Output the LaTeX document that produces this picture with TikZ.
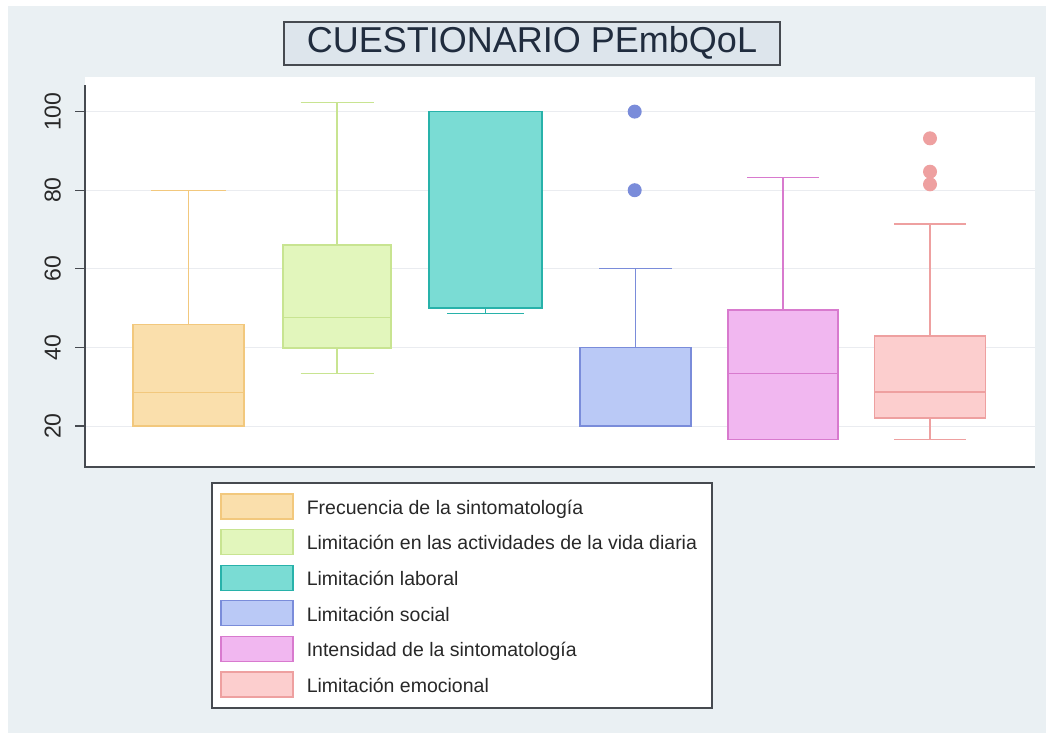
\documentclass[tikz,border=0pt]{standalone}
\usepackage{fontspec}
\setmainfont{Liberation Sans}
\usetikzlibrary{positioning}
\definecolor{bgblue}{RGB}{234,240,243}
\definecolor{titlefill}{RGB}{221,229,236}
\definecolor{framegray}{RGB}{70,74,80}
\definecolor{titleink}{RGB}{32,44,62}
\definecolor{legendink}{RGB}{40,40,40}
\definecolor{gridgray}{RGB}{234,236,240}
\definecolor{frecfill}{RGB}{250,223,172}
\definecolor{frecline}{RGB}{242,200,125}
\definecolor{vidafill}{RGB}{226,246,188}
\definecolor{vidaline}{RGB}{200,228,145}
\definecolor{labofill}{RGB}{122,220,212}
\definecolor{laboline}{RGB}{40,178,170}
\definecolor{socifill}{RGB}{186,201,246}
\definecolor{sociline}{RGB}{122,140,218}
\definecolor{intefill}{RGB}{241,183,240}
\definecolor{inteline}{RGB}{216,122,206}
\definecolor{emocfill}{RGB}{252,206,206}
\definecolor{emocline}{RGB}{238,160,160}

\begin{document}
\begin{tikzpicture}[
    x=1pt, y=-1pt,
    declare function={yv(\v)=426-(\v-20)*3.93;},
    frame/.style={draw=framegray, line width=1.3pt},
    gridline/.style={draw=gridgray, line width=1pt},
    whisker/.style={line width=1.3pt},
    boxplot/.style={line width=1.5pt},
    ticklabel/.style={rotate=90, font=\fontsize{23}{23}\selectfont, text=legendink, inner sep=0pt, text height=16pt, text depth=0pt},
    swatch/.style={rectangle, minimum width=72pt, minimum height=25pt, line width=1.2pt, inner sep=0pt},
    entry/.style={inner sep=0pt, font=\fontsize{19.5}{19.5}\selectfont, text=legendink, text height=15.5pt, text depth=0pt},
    outlier/.style={circle, inner sep=0pt, minimum size=14pt}
]
    \useasboundingbox (0,0) rectangle (1053,740);
    \fill[white] (0,0) rectangle (1053,740);
    \fill[bgblue] (8,6) rectangle (1046,733);

    % title
    \draw[frame, fill=titlefill] (284,22) rectangle (780,65);
    \node[anchor=base, font=\fontsize{36}{36}\selectfont, text=titleink, inner sep=0pt] (title) at (532,52) {CUESTIONARIO PEmbQoL};

    % plot region
    \fill[white] (85,77) rectangle (1035,467);
    \foreach \v in {20,40,...,100} {
        \draw[gridline] (86,{yv(\v)}) -- (1035,{yv(\v)});
        \draw[frame] (75,{yv(\v)}) -- (85,{yv(\v)});
        \node[ticklabel] (tick\v) at (52.5,{yv(\v)}) {\v};
    }
    \draw[frame] (85,85) -- (85,467) -- (1035,467);

    % boxes: centre / half width / q1 / median / q3 / low / high / cap / colour
    \foreach \cx/\hw/\qa/\md/\qb/\lo/\hi/\cp/\c in {
        188.5/55.5/20/28.5/45.8/20/80/37.5/frec,
        337/54/39.9/47.6/66.1/33.4/102.3/36.5/vida,
        485.5/56.5/50/50/100/48.7/100/38.5/labo,
        635.5/55.5/20/20/40/20/60/36.5/soci,
        783/55/16.6/33.4/49.5/16.6/83.2/36/inte,
        930/55.3/22.1/28.6/42.9/16.6/71.4/36/emoc} {
        \draw[whisker, \c line] (\cx,{yv(\qb)}) -- (\cx,{yv(\hi)});
        \draw[whisker, \c line] (\cx-\cp,{yv(\hi)}) -- (\cx+\cp,{yv(\hi)});
        \draw[whisker, \c line] (\cx,{yv(\qa)}) -- (\cx,{yv(\lo)});
        \draw[whisker, \c line] (\cx-\cp,{yv(\lo)}) -- (\cx+\cp,{yv(\lo)});
        \draw[boxplot, draw=\c line, fill=\c fill] (\cx-\hw,{yv(\qa)}) rectangle (\cx+\hw,{yv(\qb)});
        \draw[boxplot, \c line] (\cx-\hw,{yv(\md)}) -- (\cx+\hw,{yv(\md)});
    }

    % outliers
    \foreach \v [count=\i] in {100,80}
        \node[outlier, fill=sociline] (socout\i) at (634.7,{yv(\v)}) {};
    \foreach \v [count=\i] in {93.2,84.7,81.5}
        \node[outlier, fill=emocline] (emocout\i) at (930,{yv(\v)}) {};

    % legend
    \draw[frame, fill=white] (212,483) rectangle (712,708);
    \foreach \c/\t [count=\i] in {
        frec/Frecuencia de la sintomatología,
        vida/Limitación en las actividades de la vida diaria,
        labo/Limitación laboral,
        soci/Limitación social,
        inte/Intensidad de la sintomatología,
        emoc/Limitación emocional} {
        \node[swatch, draw=\c line, fill=\c fill] (sw\i) at (257,{506.5+(\i-1)*35.6}) {};
        \node[entry, right=13pt of sw\i] (lab\i) {\t};
    }
\end{tikzpicture}
\end{document}
